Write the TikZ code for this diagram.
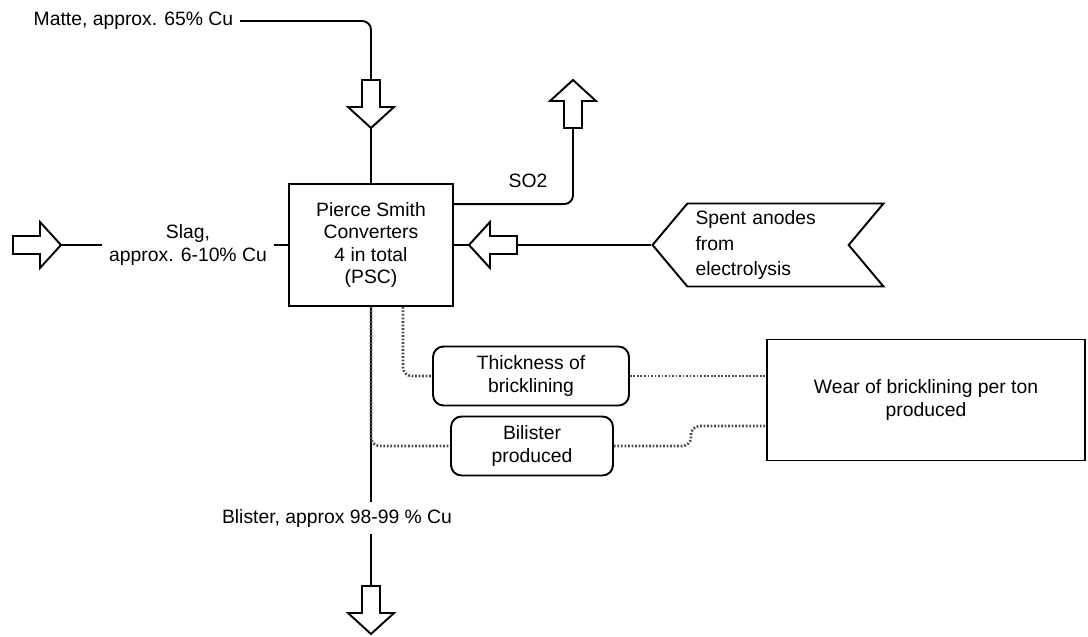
\documentclass[tikz,border=0pt]{standalone}
\usepackage{fontspec}
\setmainfont{Liberation Sans}
\usetikzlibrary{shapes.symbols}
% hollow block arrow, tail at the origin, pointing along +x
\tikzset{
  flowarrow/.pic={
    \draw[fill=white] (0,-9) -- (27,-9) -- (27,-23) -- (48,0) -- (27,23) -- (27,9) -- (0,9) -- cycle;
    \coordinate (-tail) at (0,0);
    \coordinate (-tip) at (48,0);
  }
}
\begin{document}
\begin{tikzpicture}[x=0.02cm,y=-0.02cm,line width=1.1pt,
  every node/.style={font=\fontsize{11}{12.8}\selectfont},
  unit/.style={draw,align=center},
  meas/.style={draw,rounded corners=6pt,minimum height=1.18cm,align=center},
  link/.style={line width=1.5pt,dash pattern=on 1pt off 1pt,black!70}]
\useasboundingbox (0,0) rectangle (1088,636);
% converter box
\node[unit,minimum width=3.28cm,minimum height=2.44cm] (psc) at (371,245)
  {Pierce Smith\\Converters\\4 in total\\(PSC)};
% feed: matte from the top
\node[anchor=east] (matte) at (240,21) {Matte, approx. 65\% Cu};
\pic[rotate=-90] (mattearr) at (371,80) {flowarrow};
\draw[rounded corners=5pt] (matte.east) -| (mattearr-tail);
\draw (mattearr-tip) -- (psc.north);
% off-gas
\node (so2) at (528,181) {SO2};
\pic[rotate=90] (so2arr) at (573,128) {flowarrow};
\draw[rounded corners=5pt] ([shift={(0,21)}]psc.north east) -| (so2arr-tail);
% slag out to the left
\node[align=center] (slag) at (188,245) {Slag,\\approx. 6-10\% Cu};
\pic (slagarr) at (13,245) {flowarrow};
\draw (slagarr-tip) -- (slag.west);
\draw (slag.east) -- (psc.west);
% spent anodes
\node[draw,signal,signal to=west,signal from=east,signal pointer angle=100,
  minimum width=4.62cm,minimum height=1.66cm,text width=2.9cm,align=left,
  font=\fontsize{11}{14.5}\selectfont] (anodes) at (768,245)
  {Spent anodes\\from\\electrolysis};
\pic[rotate=180] (anodearr) at (517,245) {flowarrow};
\draw (anodes.west) -- (anodearr-tail);
\draw (anodearr-tip) -- (psc.east);
% blister out at the bottom
\node (blister) at (337,518) {Blister, approx 98-99 \% Cu};
\pic[rotate=-90] (blisterarr) at (371,586) {flowarrow};
\draw (psc.south) -- (psc.south |- blister.north);
\draw (psc.south |- blister.south) -- (blisterarr-tail);
% measurements
\node[meas,minimum width=3.92cm] (thick) at (531,376) {Thickness of\\bricklining};
\node[meas,minimum width=3.24cm] (bilister) at (532,446) {Bilister\\produced};
\node[unit,minimum width=6.36cm,minimum height=2.42cm] (wear) at (926,400)
  {Wear of bricklining per ton\\produced};
\draw[link,rounded corners=5pt] ([shift={(32,0)}]psc.south) |- (thick.west);
\draw[link,rounded corners=5pt] (psc.south) |- (bilister.west);
\draw[link] (thick.east) -- (thick.east -| wear.west);
\draw[link,rounded corners=5pt] (bilister.east) -- ++(77,0) |- ([shift={(0,26)}]wear.west);
\end{tikzpicture}
\end{document}
